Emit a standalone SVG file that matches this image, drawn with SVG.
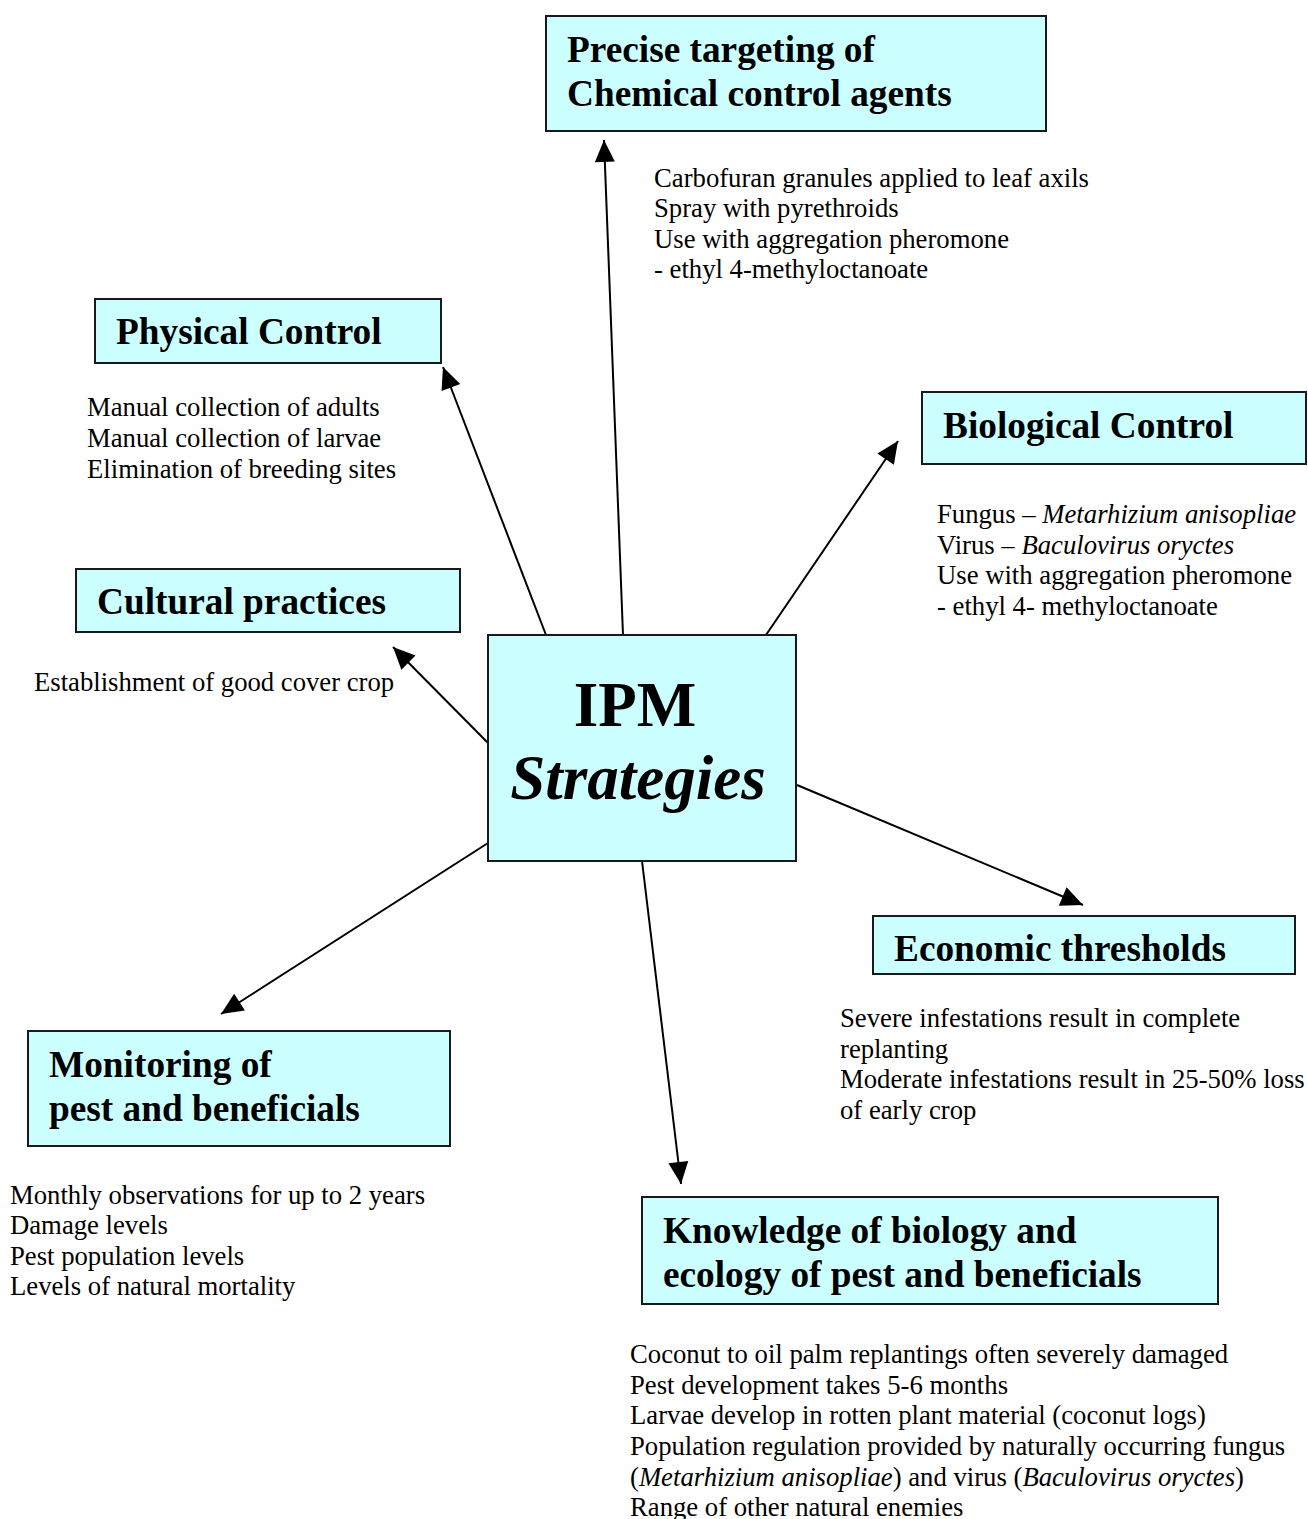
<svg xmlns="http://www.w3.org/2000/svg" width="1308" height="1519" viewBox="0 0 1308 1519">
<style>
.box{fill:#CCFFFF;stroke:#1a1a1a;stroke-width:2}
.t{font-family:"Liberation Serif","Times New Roman",serif;font-weight:bold;font-size:37.3px;fill:#000}
.b{font-family:"Liberation Serif","Times New Roman",serif;font-size:26.7px;fill:#000}
.i{font-style:italic}
.c{stroke:#000;stroke-width:2;fill:none;marker-end:url(#ah)}
</style>
<defs>
<marker id="ah" markerUnits="userSpaceOnUse" markerWidth="24" markerHeight="22" refX="23" refY="11" orient="auto" viewBox="0 0 24 22">
<path d="M1,1 L23,11 L1,21 Z" fill="#000"/>
</marker>
</defs>
<rect width="1308" height="1519" fill="#fff"/>
<g id="connectors">
<line class="c" x1="623" y1="635" x2="604" y2="140"/>
<line class="c" x1="546" y1="635" x2="443" y2="367"/>
<line class="c" x1="766" y1="635" x2="898" y2="441"/>
<line class="c" x1="488" y1="743" x2="393" y2="647"/>
<line class="c" x1="797" y1="785" x2="1083" y2="905"/>
<line class="c" x1="488" y1="843" x2="221" y2="1014"/>
<line class="c" x1="642" y1="861" x2="681" y2="1184"/>
</g>
<g id="ipm">
<rect class="box" x="488" y="635" width="308" height="226"/>
<text x="635" y="726" text-anchor="middle" style="font-family:'Liberation Serif',serif;font-weight:bold;font-size:63px">IPM</text>
<text x="638" y="799" text-anchor="middle" style="font-family:'Liberation Serif',serif;font-weight:bold;font-style:italic;font-size:63px">Strategies</text>
</g>
<g id="chemical">
<rect class="box" x="546" y="16" width="500" height="115"/>
<text class="t" x="567" y="62">Precise targeting of</text>
<text class="t" x="567" y="106">Chemical control agents</text>
<text class="b" x="654" y="187">Carbofuran granules applied to leaf axils</text>
<text class="b" x="654" y="217">Spray with pyrethroids</text>
<text class="b" x="654" y="248">Use with aggregation pheromone</text>
<text class="b" x="654" y="278">- ethyl 4-methyloctanoate</text>
</g>
<g id="physical">
<rect class="box" x="95" y="299" width="346" height="64"/>
<text class="t" x="116" y="344">Physical Control</text>
<text class="b" x="87" y="416">Manual collection of adults</text>
<text class="b" x="87" y="447">Manual collection of larvae</text>
<text class="b" x="87" y="478">Elimination of breeding sites</text>
</g>
<g id="biological">
<rect class="box" x="922" y="392" width="384" height="72"/>
<text class="t" x="943" y="438">Biological Control</text>
<text class="b" x="937" y="523">Fungus – <tspan class="i">Metarhizium anisopliae</tspan></text>
<text class="b" x="937" y="554">Virus – <tspan class="i">Baculovirus oryctes</tspan></text>
<text class="b" x="937" y="584">Use with aggregation pheromone</text>
<text class="b" x="937" y="615">- ethyl 4- methyloctanoate</text>
</g>
<g id="cultural">
<rect class="box" x="76" y="569" width="384" height="63"/>
<text class="t" x="97" y="614">Cultural practices</text>
<text class="b" x="34" y="691">Establishment of good cover crop</text>
</g>
<g id="economic">
<rect class="box" x="873" y="916" width="422" height="58"/>
<text class="t" x="894" y="961">Economic thresholds</text>
<text class="b" x="840" y="1027">Severe infestations result in complete</text>
<text class="b" x="840" y="1058">replanting</text>
<text class="b" x="840" y="1088">Moderate infestations result in 25-50% loss</text>
<text class="b" x="840" y="1119">of early crop</text>
</g>
<g id="monitoring">
<rect class="box" x="28" y="1031" width="422" height="115"/>
<text class="t" x="49" y="1077">Monitoring of</text>
<text class="t" x="49" y="1121">pest and beneficials</text>
<text class="b" x="10" y="1204">Monthly observations for up to 2 years</text>
<text class="b" x="10" y="1234">Damage levels</text>
<text class="b" x="10" y="1265">Pest population levels</text>
<text class="b" x="10" y="1295">Levels of natural mortality</text>
</g>
<g id="knowledge">
<rect class="box" x="642" y="1197" width="576" height="107"/>
<text class="t" x="663" y="1243">Knowledge of biology and</text>
<text class="t" x="663" y="1287">ecology of pest and beneficials</text>
<text class="b" x="630" y="1363">Coconut to oil palm replantings often severely damaged</text>
<text class="b" x="630" y="1394">Pest development takes 5-6 months</text>
<text class="b" x="630" y="1424">Larvae develop in rotten plant material (coconut logs)</text>
<text class="b" x="630" y="1455">Population regulation provided by naturally occurring fungus</text>
<text class="b" x="630" y="1486">(<tspan class="i">Metarhizium anisopliae</tspan>) and virus (<tspan class="i">Baculovirus oryctes</tspan>)</text>
<text class="b" x="630" y="1516">Range of other natural enemies</text>
</g>
</svg>
